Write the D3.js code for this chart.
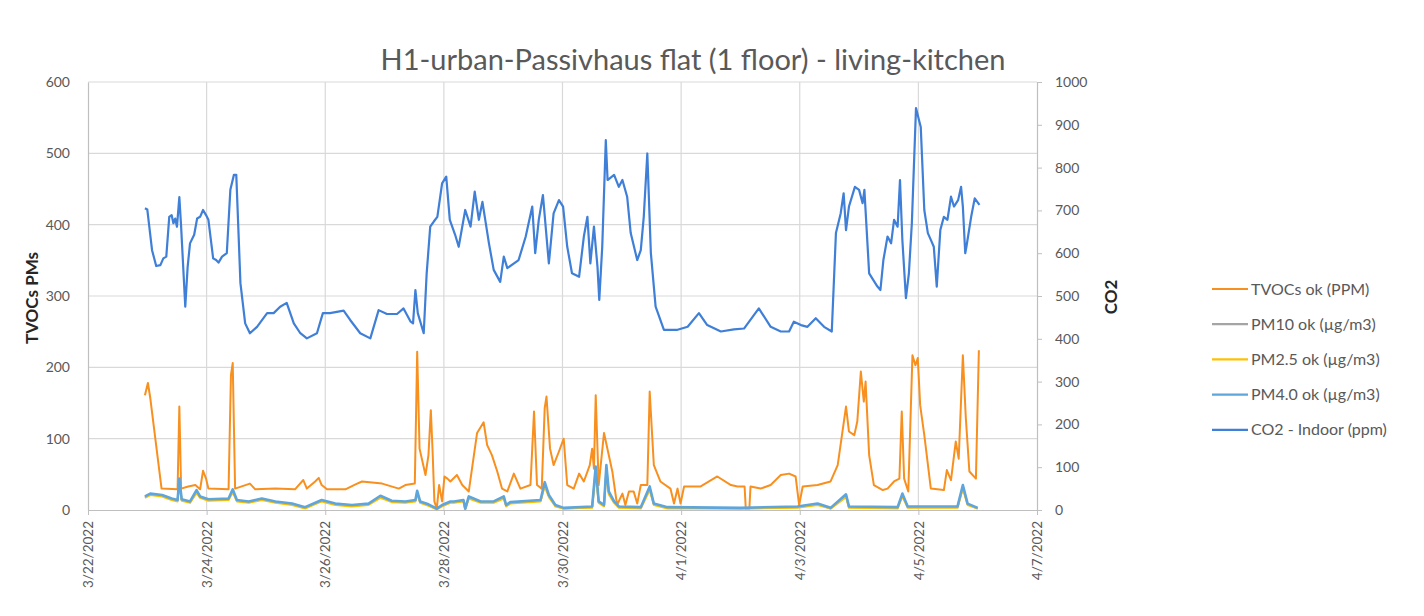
<!DOCTYPE html>
<html>
<head>
<meta charset="utf-8">
<script src="https://cdn.jsdelivr.net/npm/d3@7"></script>
<style>
  body { margin: 0; background: #fff; }
  text { font-family: Lato, "Open Sans", sans-serif; fill: #595959; }
</style>
</head>
<body>
<svg id="chart" width="1424" height="616"></svg>
<script>
// --- data ---
// times are days after 3/22/2022 00:00
const chartTitle = 'H1-urban-Passivhaus flat (1 floor) - living-kitchen';
const dateTicks = ['2022-03-22', '2022-03-24', '2022-03-26', '2022-03-28', '2022-03-30',
                   '2022-04-01', '2022-04-03', '2022-04-05', '2022-04-07'];
const leftTicks = [0, 100, 200, 300, 400, 500, 600];
const rightTicks = [0, 100, 200, 300, 400, 500, 600, 700, 800, 900, 1000];
const seriesNames = ['TVOCs ok (PPM)', 'PM10 ok (µg/m3)', 'PM2.5 ok (µg/m3)',
                     'PM4.0 ok (µg/m3)', 'CO2 - Indoor (ppm)'];

const tvocPoints = [
  [0.96, 161], [1.01, 178], [1.05, 157], [1.24, 30], [1.51, 29], [1.54, 145], [1.57, 30],
  [1.69, 33], [1.81, 35], [1.89, 29], [1.94, 55], [1.99, 44], [2.03, 30], [2.37, 29],
  [2.41, 189], [2.44, 206], [2.48, 30], [2.73, 37], [2.82, 29], [3.16, 30], [3.49, 29],
  [3.63, 42], [3.69, 30], [3.83, 40], [3.89, 45], [3.94, 35], [4.03, 29], [4.34, 29],
  [4.51, 36], [4.62, 40], [4.96, 37], [5.24, 30], [5.35, 35], [5.51, 37], [5.55, 222],
  [5.59, 86], [5.69, 49], [5.74, 77], [5.78, 140], [5.81, 82], [5.84, 12], [5.88, 2],
  [5.92, 35], [5.97, 12], [6.01, 47], [6.06, 44], [6.11, 40], [6.22, 49], [6.31, 35],
  [6.42, 26], [6.56, 108], [6.67, 123], [6.73, 91], [6.81, 77], [6.90, 54], [6.98, 30],
  [7.07, 26], [7.18, 51], [7.29, 30], [7.46, 35], [7.52, 138], [7.57, 35], [7.65, 30],
  [7.70, 143], [7.73, 159], [7.79, 86], [7.85, 63], [7.94, 82], [8.02, 100], [8.08, 35],
  [8.19, 30], [8.28, 51], [8.36, 40], [8.46, 63], [8.50, 86], [8.53, 58], [8.56, 161],
  [8.61, 35], [8.70, 108], [8.78, 77], [8.84, 54], [8.92, 7], [9.01, 23], [9.06, 7],
  [9.12, 26], [9.20, 26], [9.26, 9], [9.32, 35], [9.43, 35], [9.47, 166], [9.54, 63],
  [9.65, 40], [9.82, 30], [9.88, 9], [9.94, 30], [9.99, 9], [10.05, 33], [10.33, 33],
  [10.61, 47], [10.84, 35], [10.95, 33], [11.07, 33], [11.09, 2], [11.15, 2], [11.17, 33],
  [11.34, 30], [11.51, 35], [11.68, 49], [11.82, 51], [11.93, 47], [11.99, 7], [12.05, 33],
  [12.30, 35], [12.52, 40], [12.64, 63], [12.72, 110], [12.78, 145], [12.83, 110],
  [12.92, 105], [12.97, 124], [13.03, 194], [13.08, 152], [13.11, 180], [13.17, 77],
  [13.25, 35], [13.40, 28], [13.48, 30], [13.59, 40], [13.68, 44], [13.72, 138], [13.76, 44],
  [13.83, 26], [13.90, 217], [13.95, 203], [13.99, 213], [14.03, 147], [14.10, 105],
  [14.21, 30], [14.43, 28], [14.48, 56], [14.55, 42], [14.63, 96], [14.68, 72], [14.75, 217],
  [14.80, 129], [14.86, 54], [14.97, 44], [15.02, 224]
];

const pmDays = [
  0.96, 1.05, 1.25, 1.41, 1.51, 1.54, 1.58, 1.72, 1.83, 1.89, 2.03, 2.37, 2.44, 2.51,
  2.71, 2.93, 3.16, 3.44, 3.66, 3.94, 4.17, 4.45, 4.73, 4.93, 5.12, 5.35, 5.52, 5.55,
  5.60, 5.74, 5.88, 5.97, 6.11, 6.17, 6.33, 6.36, 6.42, 6.62, 6.84, 7.01, 7.05, 7.12,
  7.63, 7.70, 7.77, 7.88, 8.02, 8.50, 8.56, 8.61, 8.70, 8.74, 8.78, 8.87, 8.95, 9.32,
  9.47, 9.54, 9.77, 11.00, 11.96, 12.30, 12.52, 12.78, 12.83, 13.65, 13.73, 13.82,
  14.66, 14.75, 14.83, 15.00
];
const pm10Values = [
  18, 22, 20, 15, 13, 41, 14, 11, 26, 18, 14, 15, 27, 13, 11, 15, 11, 8, 3, 13,
  8, 6, 8, 19, 12, 11, 13, 25, 11, 7, 1, 6, 11, 11, 13, 1, 18, 11, 11, 18,
  6, 10, 13, 36, 20, 6, 2, 4, 57, 11, 6, 58, 24, 11, 4, 3, 30, 8, 3, 2,
  4, 8, 2, 20, 4, 3, 21, 4, 4, 32, 8, 2
];
const pm25Values = [
  17, 21, 19, 14, 12, 38, 13, 10, 24, 17, 13, 14, 25, 12, 10, 14, 10, 7, 2, 12,
  7, 5, 7, 17, 11, 10, 12, 23, 10, 6, 1, 5, 10, 10, 12, 1, 16, 10, 10, 16,
  5, 9, 12, 33, 18, 5, 2, 3, 52, 10, 5, 54, 22, 10, 3, 2, 28, 7, 2, 2,
  3, 7, 2, 18, 3, 2, 19, 3, 3, 30, 7, 2
];
const pm4Values = [
  19, 23, 21, 16, 14, 44, 15, 12, 28, 19, 15, 16, 29, 14, 12, 16, 12, 9, 4, 14,
  9, 7, 9, 20, 13, 12, 14, 27, 12, 8, 2, 7, 12, 12, 14, 2, 19, 12, 12, 19,
  7, 11, 14, 39, 21, 7, 3, 5, 61, 12, 7, 63, 26, 12, 5, 4, 33, 9, 4, 3,
  5, 9, 3, 22, 5, 4, 23, 5, 5, 35, 9, 3
];

const co2Points = [
  [0.96, 705], [1.00, 702], [1.08, 607], [1.15, 570], [1.22, 572], [1.27, 588], [1.32, 592],
  [1.37, 685], [1.41, 689], [1.44, 670], [1.47, 681], [1.50, 662], [1.54, 731], [1.57, 662],
  [1.64, 475], [1.68, 568], [1.72, 623], [1.79, 643], [1.84, 681], [1.89, 685], [1.94, 701],
  [1.99, 689], [2.03, 678], [2.11, 588], [2.16, 584], [2.20, 578], [2.26, 592], [2.34, 600],
  [2.40, 748], [2.46, 783], [2.50, 783], [2.57, 530], [2.65, 436], [2.73, 413], [2.85, 428],
  [3.02, 460], [3.13, 460], [3.24, 475], [3.35, 484], [3.47, 436], [3.58, 413], [3.69, 401],
  [3.86, 413], [3.96, 460], [4.08, 460], [4.31, 466], [4.42, 444], [4.59, 413], [4.76, 401],
  [4.90, 467], [5.04, 458], [5.21, 458], [5.32, 471], [5.44, 440], [5.48, 436], [5.52, 514],
  [5.56, 460], [5.66, 413], [5.71, 553], [5.77, 662], [5.83, 674], [5.89, 685], [5.97, 763],
  [6.04, 779], [6.10, 678], [6.19, 643], [6.25, 615], [6.36, 701], [6.45, 662], [6.52, 744],
  [6.59, 678], [6.65, 720], [6.76, 623], [6.84, 561], [6.95, 533], [7.01, 592], [7.07, 565],
  [7.26, 584], [7.38, 639], [7.49, 709], [7.54, 600], [7.60, 678], [7.67, 736], [7.77, 576],
  [7.85, 693], [7.94, 724], [8.01, 709], [8.08, 615], [8.16, 553], [8.28, 545], [8.36, 639],
  [8.42, 685], [8.47, 576], [8.53, 662], [8.59, 568], [8.62, 491], [8.67, 615], [8.73, 864],
  [8.76, 771], [8.87, 783], [8.95, 755], [9.01, 771], [9.09, 732], [9.15, 647], [9.26, 584],
  [9.32, 607], [9.37, 685], [9.43, 833], [9.49, 600], [9.57, 475], [9.71, 421], [9.94, 421],
  [10.11, 428], [10.30, 460], [10.44, 432], [10.67, 417], [10.89, 422], [11.06, 424],
  [11.31, 471], [11.51, 428], [11.68, 417], [11.82, 417], [11.90, 440], [12.02, 432],
  [12.13, 428], [12.27, 448], [12.41, 428], [12.54, 417], [12.61, 647], [12.69, 693],
  [12.74, 740], [12.78, 654], [12.83, 709], [12.93, 755], [13.00, 748], [13.06, 717],
  [13.09, 748], [13.17, 553], [13.31, 522], [13.36, 514], [13.41, 584], [13.48, 639],
  [13.54, 623], [13.59, 678], [13.65, 662], [13.69, 771], [13.73, 631], [13.79, 495],
  [13.84, 553], [13.89, 670], [13.96, 939], [14.01, 911], [14.04, 895], [14.10, 701],
  [14.16, 647], [14.21, 631], [14.26, 615], [14.31, 522], [14.37, 654], [14.43, 685],
  [14.49, 678], [14.55, 732], [14.60, 709], [14.67, 724], [14.72, 755], [14.75, 709],
  [14.79, 600], [14.81, 615], [14.89, 685], [14.95, 728], [15.03, 713]
];

const seriesColors = ['#f8901f', '#a5a5a5', '#ffc000', '#5ea5dc', '#3f7fd7'];

// --- layout ---
const svg = d3.select('#chart');
const plot = { left: 88, right: 1037, top: 82, bottom: 510 };
const startDate = Date.UTC(2022, 2, 22);
const toDate = d => new Date(startDate + d * 864e5);

const x = d3.scaleUtc()
  .domain([new Date(dateTicks[0]), new Date(dateTicks[dateTicks.length - 1])])
  .range([plot.left, plot.right]);
const yLeft = d3.scaleLinear().domain([0, 600]).range([plot.bottom, plot.top]);
const yRight = d3.scaleLinear().domain([0, 1000]).range([plot.bottom, plot.top]);

svg.append('rect').attr('width', 1424).attr('height', 616).attr('fill', '#fff');

// gridlines
const grid = svg.append('g').attr('class', 'grid');
grid.selectAll('line.h')
  .data(leftTicks.slice(1))
  .join('line')
  .attr('x1', plot.left).attr('x2', plot.right)
  .attr('y1', d => yLeft(d)).attr('y2', d => yLeft(d))
  .style('stroke', '#d9d9d9').style('stroke-width', 1.2);
grid.selectAll('line.v')
  .data(dateTicks.slice(1, -1))
  .join('line')
  .attr('x1', d => x(new Date(d))).attr('x2', d => x(new Date(d)))
  .attr('y1', plot.top).attr('y2', plot.bottom)
  .style('stroke', '#d9d9d9').style('stroke-width', 1.2);

// axes
const fmt = d3.utcFormat('%-m/%-d/%Y');
const xAxis = svg.append('g')
  .attr('transform', `translate(0,${plot.bottom})`)
  .call(d3.axisBottom(x).tickValues(dateTicks.map(d => new Date(d))).tickFormat(fmt).tickSize(5).tickSizeOuter(0));
xAxis.selectAll('text')
  .attr('transform', 'rotate(-90)')
  .attr('text-anchor', 'end')
  .attr('x', -11).attr('y', 0).attr('dy', '0.35em')
  .style('font-size', '13.5px');

const leftAxis = svg.append('g')
  .attr('transform', `translate(${plot.left},0)`)
  .call(d3.axisLeft(yLeft).tickValues(leftTicks).tickSize(0).tickPadding(18));
leftAxis.selectAll('text').style('font-size', '14px');

const rightAxis = svg.append('g')
  .attr('transform', `translate(${plot.right},0)`)
  .call(d3.axisRight(yRight).tickValues(rightTicks).tickFormat(d3.format('d'))
    .tickSize(5).tickSizeOuter(0).tickPadding(13));
rightAxis.selectAll('text').style('font-size', '14px');

[xAxis, leftAxis, rightAxis].forEach(a => {
  a.selectAll('path.domain').style('stroke', '#bfbfbf').style('stroke-width', 1.2);
  a.selectAll('.tick line').style('stroke', '#bfbfbf');
  a.selectAll('text').style('fill', '#595959').style('font-family', 'Lato, sans-serif');
});

// series
const toPairs = values => values.map((v, i) => [pmDays[i], v]);
const leftSeries = [tvocPoints, toPairs(pm10Values), toPairs(pm25Values), toPairs(pm4Values)];
const leftLine = d3.line().x(d => x(toDate(d[0]))).y(d => yLeft(d[1]));
const rightLine = d3.line().x(d => x(toDate(d[0]))).y(d => yRight(d[1]));

const lines = svg.append('g').attr('class', 'series');
lines.selectAll('path.left')
  .data(leftSeries)
  .join('path')
  .attr('d', leftLine)
  .style('fill', 'none')
  .style('stroke', (d, i) => seriesColors[i])
  .style('stroke-width', (d, i) => (i === 3 ? 2.6 : 2))
  .style('stroke-linejoin', 'round');
lines.append('path')
  .attr('d', rightLine(co2Points))
  .style('fill', 'none')
  .style('stroke', seriesColors[4])
  .style('stroke-width', 2.2)
  .style('stroke-linejoin', 'round');

// titles
svg.append('text')
  .attr('x', 693).attr('y', 70)
  .attr('text-anchor', 'middle')
  .style('font-size', '29px')
  .text(chartTitle);
svg.append('text')
  .attr('transform', 'translate(38,298) rotate(-90)')
  .attr('text-anchor', 'middle')
  .style('font-size', '17px').style('font-weight', 'bold').style('fill', '#262626')
  .text('TVOCs PMs');
svg.append('text')
  .attr('transform', 'translate(1117,297) rotate(-90)')
  .attr('text-anchor', 'middle')
  .style('font-size', '17px').style('font-weight', 'bold').style('fill', '#262626')
  .text('CO2');

// legend
const legend = svg.append('g').attr('transform', 'translate(1212,289)');
const items = legend.selectAll('g')
  .data(seriesNames)
  .join('g')
  .attr('transform', (d, i) => `translate(0,${i * 35.2})`);
items.append('line')
  .attr('x1', 0).attr('x2', 36)
  .style('stroke', (d, i) => seriesColors[i])
  .style('stroke-width', 2.2);
items.append('text')
  .attr('x', 39).attr('dy', '0.35em')
  .style('font-size', '16px')
  .text(d => d);
</script>
</body>
</html>
